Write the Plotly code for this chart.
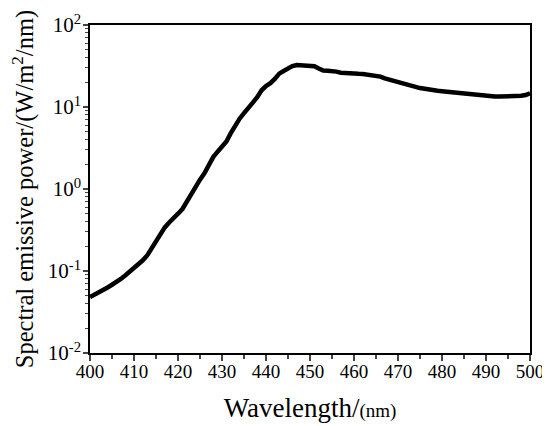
import plotly.graph_objects as go

# Spectral emissive power, one point per nm
wavelength = list(range(400, 501))
power = [
    0.048, 0.051, 0.055, 0.058, 0.063, 0.068, 0.073, 0.080, 0.088, 0.098,
    0.106, 0.118, 0.135, 0.155, 0.19, 0.23, 0.27, 0.34, 0.39, 0.45,
    0.50, 0.57, 0.70, 0.88, 1.12, 1.30, 1.55, 1.95, 2.45, 2.85,
    3.3, 3.8, 4.8, 6.0, 7.2, 8.4, 10.0, 11.3, 13.2, 16.0,
    18.0, 19.5, 22.0, 25.5, 27.5, 29.5, 31.5, 32.5, 32.5, 32.5,
    32.2, 31.5, 29.5, 27.8, 27.7, 27.7, 27.0, 26.2, 25.8, 25.6,
    25.5, 25.4, 25.3, 25.0, 24.5, 24.0, 23.5, 22.3, 21.5, 21.0,
    20.3, 19.0, 18.4, 18.0, 17.6, 17.0, 16.6, 16.4, 16.1, 15.8,
    15.6, 15.4, 15.2, 15.0, 14.6, 14.3, 14.1, 13.9, 13.8, 13.6,
    13.5, 13.4, 13.4, 13.4, 13.4, 13.4, 13.5, 13.6, 13.7, 14.0,
    14.7,
]

# log axis ticks
y_ticks = [0.01, 0.1, 1, 10, 100]
y_ticklabels = ["10<sup>-2</sup>", "10<sup>-1</sup>", "10<sup>0</sup>",
                "10<sup>1</sup>", "10<sup>2</sup>"]
y_minor = [m * d for d in y_ticks[:-1] for m in range(2, 10)]

font = "Liberation Serif, Times New Roman, serif"

fig = go.Figure()
fig.add_trace(
    go.Scatter(
        x=wavelength,
        y=power,
        mode="lines",
        line=dict(color="black", width=4.5),
        showlegend=False,
    )
)

# page has an 8px body margin, so the figure is 8px smaller than the window
fig.update_layout(
    width=542,
    height=418,
    margin=dict(l=82, r=20, t=17, b=73),
    paper_bgcolor="white",
    plot_bgcolor="white",
    font=dict(family=font, color="black", size=18),
)

fig.update_xaxes(
    range=[400, 500],
    dtick=10,
    ticks="outside",
    ticklen=6,
    tickwidth=1.5,
    minor=dict(dtick=5, ticks="outside", ticklen=4, tickwidth=1.5),
    showline=True,
    linecolor="black",
    linewidth=1.5,
    mirror=True,
    showgrid=False,
    zeroline=False,
    automargin=False,
    tickfont=dict(size=19),
    ticklabelstandoff=-6,
    title=dict(
        text="Wavelength/<span style='font-size:19px'>(nm)</span>",
        font=dict(size=27),
        standoff=18,
    ),
)

fig.update_yaxes(
    type="log",
    range=[-2, 2],
    tickmode="array",
    tickvals=y_ticks,
    ticktext=y_ticklabels,
    ticks="outside",
    ticklen=5,
    tickwidth=1.5,
    minor=dict(tickmode="array", tickvals=y_minor, ticks="outside",
               ticklen=3, tickwidth=1),
    showline=True,
    linecolor="black",
    linewidth=1.5,
    mirror=True,
    showgrid=False,
    zeroline=False,
    automargin=False,
    tickfont=dict(size=21),
    ticklabelstandoff=-2,
    title=dict(
        text="Spectral emissive power/(W/m<sup>2</sup>/nm)",
        font=dict(size=24.5),
        standoff=21,
    ),
)

fig.write_html("out.html")
